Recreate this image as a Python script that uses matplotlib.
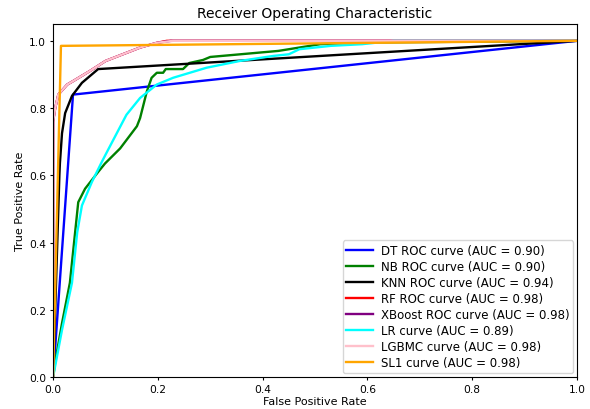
import matplotlib
matplotlib.use('Agg')
import matplotlib.pyplot as plt

# ROC points
dt_fpr = [0.0, 0.038, 1.0]
dt_tpr = [0.0, 0.84, 1.0]

nb_fpr = [0.0, 0.004, 0.017, 0.032, 0.042, 0.048, 0.061, 0.086, 0.099, 0.128, 0.16, 0.166,
          0.179, 0.188, 0.198, 0.21, 0.215, 0.248, 0.26, 0.286, 0.30, 0.43, 0.49, 0.51, 0.6, 1.0]
nb_tpr = [0.0, 0.045, 0.16, 0.28, 0.43, 0.52, 0.56, 0.61, 0.635, 0.68, 0.746, 0.77,
          0.85, 0.89, 0.905, 0.905, 0.916, 0.916, 0.934, 0.943, 0.952, 0.97, 0.985, 0.99, 0.995, 1.0]

knn_fpr = [0.0, 0.012, 0.013, 0.017, 0.023, 0.036, 0.055, 0.086, 1.0]
knn_tpr = [0.0, 0.60, 0.636, 0.725, 0.785, 0.836, 0.875, 0.916, 1.0]

rf_fpr = [0.0, 0.0, 0.004, 0.01, 0.027, 0.038, 0.07, 0.10, 0.133, 0.166, 0.198, 0.217, 1.0]
rf_tpr = [0.0, 0.76, 0.80, 0.84, 0.87, 0.88, 0.91, 0.94, 0.96, 0.98, 0.994, 1.0, 1.0]

xgb_fpr = [0.0, 0.0, 0.004, 0.01, 0.027, 0.038, 0.07, 0.10, 0.133, 0.166, 0.198, 0.225, 1.0]
xgb_tpr = [0.0, 0.76, 0.80, 0.84, 0.87, 0.88, 0.91, 0.94, 0.96, 0.98, 0.994, 1.0, 1.0]

lr_fpr = [0.0, 0.017, 0.036, 0.046, 0.055, 0.074, 0.093, 0.103, 0.14, 0.166, 0.198, 0.229,
          0.293, 0.356, 0.42, 0.45, 0.47, 0.53, 0.59, 0.65, 1.0]
lr_tpr = [0.0, 0.14, 0.28, 0.43, 0.51, 0.58, 0.64, 0.67, 0.78, 0.83, 0.87, 0.89,
          0.92, 0.94, 0.955, 0.96, 0.975, 0.985, 0.99, 1.0, 1.0]

lgbm_fpr = [0.0, 0.0, 0.004, 0.01, 0.027, 0.038, 0.07, 0.10, 0.133, 0.166, 0.198, 0.229, 1.0]
lgbm_tpr = [0.0, 0.76, 0.80, 0.84, 0.87, 0.88, 0.91, 0.94, 0.96, 0.98, 0.994, 1.0, 1.0]

sl1_fpr = [0.0, 0.015, 1.0]
sl1_tpr = [0.0, 0.985, 1.0]

curves = [
    (dt_fpr, dt_tpr, 'blue', 'DT ROC curve (AUC = 0.90)'),
    (nb_fpr, nb_tpr, 'green', 'NB ROC curve (AUC = 0.90)'),
    (knn_fpr, knn_tpr, 'black', 'KNN ROC curve (AUC = 0.94)'),
    (rf_fpr, rf_tpr, 'red', 'RF ROC curve (AUC = 0.98)'),
    (xgb_fpr, xgb_tpr, 'purple', 'XBoost ROC curve (AUC = 0.98)'),
    (lr_fpr, lr_tpr, 'cyan', 'LR curve (AUC = 0.89)'),
    (lgbm_fpr, lgbm_tpr, 'pink', 'LGBMC curve (AUC = 0.98)'),
    (sl1_fpr, sl1_tpr, 'orange', 'SL1 curve (AUC = 0.98)'),
]

fig = plt.figure(figsize=(5.9, 4.1), dpi=100)
ax = fig.add_axes([0.090, 0.078, 0.888, 0.861])
for fpr, tpr, color, label in curves:
    ax.plot(fpr, tpr, color=color, lw=1.7, label=label)

ax.set_xlim(0.0, 1.0)
ax.set_ylim(0.0, 1.05)
ax.set_xlabel('False Positive Rate', fontsize=8, labelpad=1.5)
ax.set_ylabel('True Positive Rate', fontsize=8, labelpad=3)
ax.set_title('Receiver Operating Characteristic', fontsize=10, pad=5)
ax.tick_params(labelsize=7.7, length=2.5, pad=2.5)
ax.legend(loc='lower right', fontsize=8.5, labelspacing=0.26, handlelength=2.3,
          handletextpad=0.62, borderpad=0.3, borderaxespad=0.35)

fig.savefig('out.png', dpi=100)
